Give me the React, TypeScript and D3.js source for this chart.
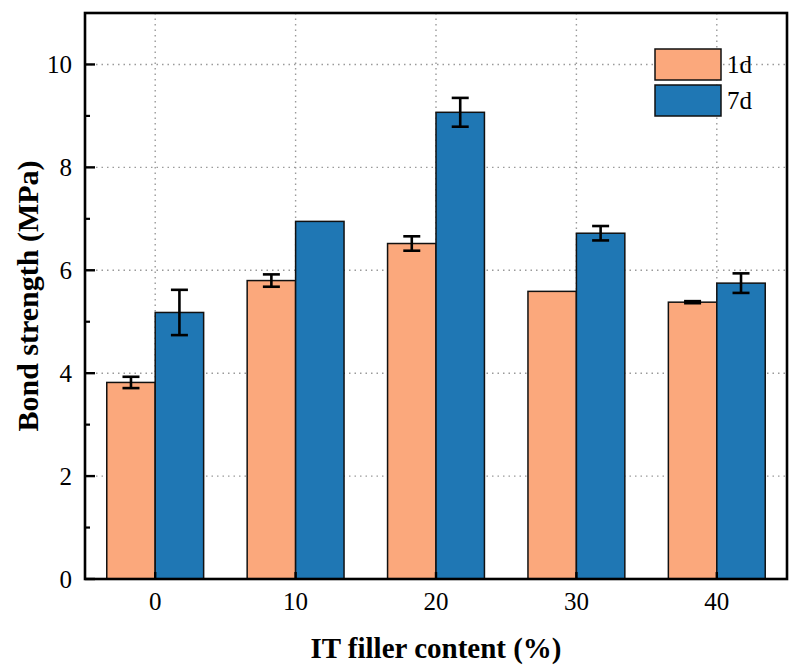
import * as d3 from "d3";

const categories = ["0", "10", "20", "30", "40"];
const seriesNames = ["1d", "7d"];
const values1d = [3.82, 5.8, 6.52, 5.59, 5.38];
const errors1d = [0.11, 0.12, 0.14, 0, 0.02];
const values7d = [5.18, 6.95, 9.07, 6.72, 5.75];
const errors7d = [0.44, 0, 0.28, 0.14, 0.19];
const yTickValues = [0, 2, 4, 6, 8, 10];
const yMinorTicks = [1, 3, 5, 7, 9];
const colors = ["#FBA87C", "#1F77B4"];

const width = 802;
const height = 671;
const margin = { top: 13, right: 15, bottom: 92, left: 85 };
const textStyle = { fontFamily: "Liberation Serif, serif" };

export default function App() {
  const x0 = margin.left;
  const x1 = width - margin.right;
  const yBottom = height - margin.bottom;
  const yTop = margin.top;

  const xScale = d3
    .scaleBand<string>()
    .domain(categories)
    .range([x0, x1])
    .paddingInner(0.31)
    .paddingOuter(0.155);
  const subScale = d3
    .scaleBand<string>()
    .domain(seriesNames)
    .range([0, xScale.bandwidth()]);
  const yScale = d3.scaleLinear().domain([0, 11]).range([yBottom, yTop]);

  const series = [
    { name: seriesNames[0], values: values1d, errors: errors1d, color: colors[0] },
    { name: seriesNames[1], values: values7d, errors: errors7d, color: colors[1] },
  ];

  const center = (c: string) => (xScale(c) ?? 0) + xScale.bandwidth() / 2;
  const capHalf = 8.5;

  return (
    <svg
      width={width}
      height={height}
      viewBox={`0 0 ${width} ${height}`}
      style={{ position: "absolute", left: 0, top: 0, background: "#fff" }}
    >
      {/* grid */}
      {yTickValues.slice(1).map((t) => (
        <line
          key={`gy-${t}`}
          x1={x0}
          x2={x1}
          y1={yScale(t)}
          y2={yScale(t)}
          stroke="#9a9a9a"
          strokeWidth={1.4}
          strokeDasharray="1.5 4"
        />
      ))}
      {categories.map((c) => (
        <line
          key={`gx-${c}`}
          x1={center(c)}
          x2={center(c)}
          y1={yTop}
          y2={yBottom}
          stroke="#9a9a9a"
          strokeWidth={1.4}
          strokeDasharray="1.5 4"
        />
      ))}

      {/* bars */}
      {series.map((s) =>
        categories.map((c, i) => (
          <rect
            key={`bar-${s.name}-${c}`}
            x={(xScale(c) ?? 0) + (subScale(s.name) ?? 0)}
            y={yScale(s.values[i])}
            width={subScale.bandwidth()}
            height={yBottom - yScale(s.values[i])}
            fill={s.color}
            stroke="#111"
            strokeWidth={1.5}
          />
        ))
      )}

      {/* error bars */}
      {series.map((s) =>
        categories.map((c, i) => {
          if (!s.errors[i]) return null;
          const cx = (xScale(c) ?? 0) + (subScale(s.name) ?? 0) + subScale.bandwidth() / 2;
          const hi = yScale(s.values[i] + s.errors[i]);
          const lo = yScale(s.values[i] - s.errors[i]);
          return (
            <g key={`err-${s.name}-${c}`} stroke="#000" strokeWidth={2.6}>
              <line x1={cx} x2={cx} y1={hi} y2={lo} />
              <line x1={cx - capHalf} x2={cx + capHalf} y1={hi} y2={hi} />
              <line x1={cx - capHalf} x2={cx + capHalf} y1={lo} y2={lo} />
            </g>
          );
        })
      )}

      {/* frame */}
      <rect
        x={x0}
        y={yTop}
        width={x1 - x0}
        height={yBottom - yTop}
        fill="none"
        stroke="#000"
        strokeWidth={2.6}
      />

      {/* y ticks */}
      {yTickValues.map((t) => (
        <g key={`yt-${t}`}>
          <line x1={x0} x2={x0 + 10} y1={yScale(t)} y2={yScale(t)} stroke="#000" strokeWidth={2.4} />
          <text
            x={x0 - 13}
            y={yScale(t)}
            textAnchor="end"
            dominantBaseline="central"
            style={textStyle}
            fontSize={25}
            fill="#000"
          >
            {t}
          </text>
        </g>
      ))}
      {yMinorTicks.map((t) => (
        <line
          key={`ym-${t}`}
          x1={x0}
          x2={x0 + 5}
          y1={yScale(t)}
          y2={yScale(t)}
          stroke="#000"
          strokeWidth={2.2}
        />
      ))}

      {/* x ticks */}
      {categories.map((c) => (
        <g key={`xt-${c}`}>
          <line x1={center(c)} x2={center(c)} y1={yBottom} y2={yBottom - 7} stroke="#000" strokeWidth={2.4} />
          <text
            x={center(c)}
            y={yBottom + 31}
            textAnchor="middle"
            style={textStyle}
            fontSize={25}
            fill="#000"
          >
            {c}
          </text>
        </g>
      ))}

      {/* axis titles */}
      <text
        x={(x0 + x1) / 2}
        y={658}
        textAnchor="middle"
        style={textStyle}
        fontWeight="bold"
        fontSize={29}
        fill="#000"
      >
        IT filler content (%)
      </text>
      <text
        transform={`translate(38, ${(yTop + yBottom) / 2}) rotate(-90)`}
        textAnchor="middle"
        style={textStyle}
        fontWeight="bold"
        fontSize={30}
        fill="#000"
      >
        Bond strength (MPa)
      </text>

      {/* legend */}
      {series.map((s, i) => (
        <g key={`lg-${s.name}`} transform={`translate(655, ${49 + i * 36})`}>
          <rect width={66} height={31} fill={s.color} stroke="#111" strokeWidth={1.5} />
          <text x={72} y={24} style={textStyle} fontSize={25} fill="#000">
            {s.name}
          </text>
        </g>
      ))}
    </svg>
  );
}
